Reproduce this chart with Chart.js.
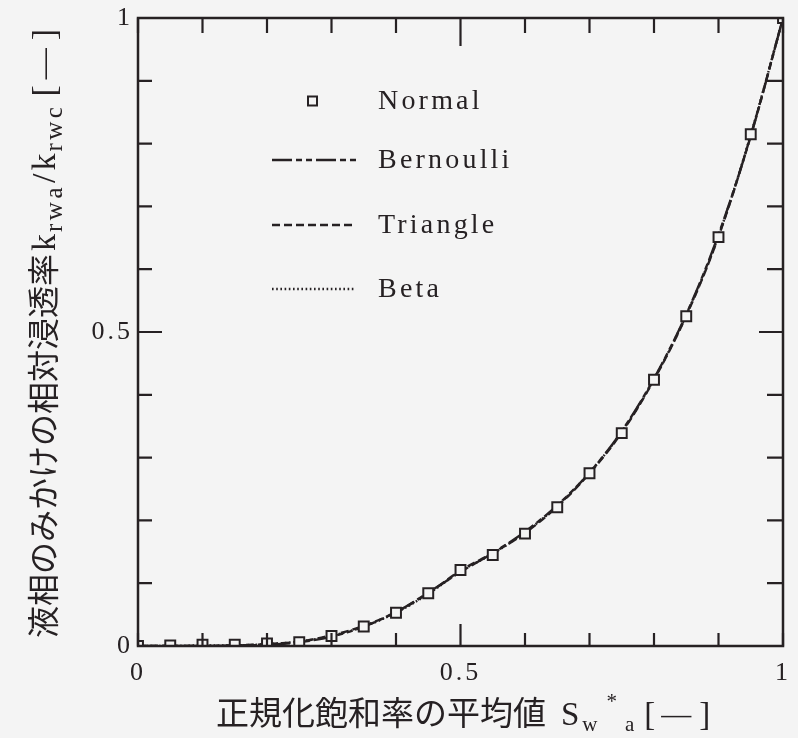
<!DOCTYPE html>
<html>
<head>
<meta charset="utf-8">
<script src="https://cdn.jsdelivr.net/npm/chart.js@4.4.1/dist/chart.umd.min.js"></script>
<style>
  html, body { margin: 0; padding: 0; background: #f4f4f4; }
  #wrap { width: 798px; height: 738px; }
</style>
</head>
<body>
<div id="wrap"><canvas id="c" width="798" height="738"></canvas></div>
<script>
// Mean normalized saturation S_w*_a
const satMean = [0, 0.05, 0.1, 0.15, 0.2, 0.25, 0.3, 0.35, 0.4, 0.45, 0.5,
                 0.55, 0.6, 0.65, 0.7, 0.75, 0.8, 0.85, 0.9, 0.95, 1];
// Apparent relative permeability k_rwa/k_rwc for each distribution
const normal    = [0, 0.001, 0.002, 0.002, 0.004, 0.006, 0.016, 0.031, 0.053, 0.084, 0.121,
                   0.145, 0.179, 0.221, 0.275, 0.339, 0.424, 0.525, 0.651, 0.815, 1];
const bernoulli = [0, 0, 0, 0.001, 0.002, 0.006, 0.015, 0.031, 0.054, 0.085, 0.118,
                   0.148, 0.182, 0.224, 0.276, 0.342, 0.426, 0.528, 0.655, 0.812, 1];
const triangle  = [0, 0, 0, 0.001, 0.003, 0.007, 0.017, 0.032, 0.054, 0.084, 0.120,
                   0.148, 0.180, 0.222, 0.275, 0.340, 0.424, 0.526, 0.652, 0.813, 1];
const beta      = [0, 0, 0.001, 0.001, 0.003, 0.007, 0.016, 0.031, 0.053, 0.083, 0.119,
                   0.147, 0.181, 0.223, 0.276, 0.341, 0.425, 0.527, 0.653, 0.814, 1];
const seriesNames = ['Normal', 'Bernoulli', 'Triangle', 'Beta'];
const labelTicks = [0, 0.5, 1];
const minorTicks = [0, 0.1, 0.2, 0.3, 0.4, 0.5, 0.6, 0.7, 0.8, 0.9, 1];

const INK = '#262123';
const PAPER = '#f4f4f4';
const SERIF = '"Liberation Serif", "DejaVu Serif", serif';
const CJK = '"Noto Sans CJK JP", sans-serif';

const pts = ys => satMean.map((x, i) => ({ x, y: ys[i] }));

const dashes = {
  Bernoulli: [20, 4, 6, 4, 6, 4],
  Triangle: [8, 4],
  Beta: [1.6, 2.6]
};

// Paper background + letter spacing for the tick labels
const paperPlugin = {
  id: 'paper',
  beforeDraw(chart) {
    const ctx = chart.ctx;
    ctx.save();
    ctx.fillStyle = PAPER;
    ctx.fillRect(0, 0, chart.width, chart.height);
    ctx.restore();
    ctx.letterSpacing = '3px';
  },
  afterDraw(chart) {
    chart.ctx.letterSpacing = '0px';
  }
};

// Closed frame with inward tick marks on all four sides
const framePlugin = {
  id: 'frame',
  afterDatasetsDraw(chart) {
    const { ctx, chartArea: a, scales: { x, y } } = chart;
    ctx.save();
    ctx.strokeStyle = INK;
    ctx.lineWidth = 2.5;
    ctx.strokeRect(a.left, a.top, a.right - a.left, a.bottom - a.top);
    ctx.lineWidth = 2.2;
    ctx.beginPath();
    minorTicks.forEach(v => {
      const major = Math.abs(v - 0.5) < 1e-9;
      const px = x.getPixelForValue(v);
      const py = y.getPixelForValue(v);
      const lb = major ? 22 : 13;   // bottom
      const lt = major ? 28 : 15;   // top
      const ll = major ? 24 : 14;   // left
      const lr = major ? 24 : 16;   // right
      ctx.moveTo(px, a.bottom); ctx.lineTo(px, a.bottom - lb);
      ctx.moveTo(px, a.top); ctx.lineTo(px, a.top + lt);
      ctx.moveTo(a.left, py); ctx.lineTo(a.left + ll, py);
      ctx.moveTo(a.right, py); ctx.lineTo(a.right - lr, py);
    });
    ctx.stroke();
    ctx.restore();
  }
};

// Legend placed inside the plot area
const legendPlugin = {
  id: 'innerLegend',
  afterDraw(chart) {
    const { ctx, chartArea: a } = chart;
    const x0 = a.left + 134, x1 = a.left + 218, tx = a.left + 240;
    const rows = [a.top + 83, a.top + 142, a.top + 207, a.top + 271];
    ctx.save();
    ctx.strokeStyle = INK;
    ctx.fillStyle = INK;
    ctx.font = '28px ' + SERIF;
    ctx.letterSpacing = '3.2px';
    ctx.textBaseline = 'middle';
    ctx.textAlign = 'left';
    seriesNames.forEach((name, i) => {
      const yy = rows[i];
      if (name === 'Normal') {
        ctx.lineWidth = 2;
        ctx.fillStyle = PAPER;
        ctx.fillRect(x0 + 36, yy - 4.5, 9, 9);
        ctx.strokeRect(x0 + 36, yy - 4.5, 9, 9);
        ctx.fillStyle = INK;
      } else {
        ctx.lineWidth = 2.4;
        ctx.setLineDash(dashes[name]);
        ctx.beginPath();
        ctx.moveTo(x0, yy);
        ctx.lineTo(x1, yy);
        ctx.stroke();
        ctx.setLineDash([]);
      }
      ctx.fillText(name, tx, yy + 1);
    });
    ctx.restore();
  }
};

function drawRich(ctx, parts, x, y) {
  let cx = x;
  parts.forEach(p => {
    ctx.font = p.font;
    ctx.letterSpacing = p.ls || '0px';
    ctx.fillText(p.t, cx, y + (p.dy || 0));
    cx += ctx.measureText(p.t).width + (p.gap || 0);
  });
}

// Axis titles with sub/superscripts
const titlePlugin = {
  id: 'axisTitles',
  afterDraw(chart) {
    const ctx = chart.ctx;
    ctx.save();
    ctx.fillStyle = INK;
    ctx.textBaseline = 'alphabetic';
    ctx.textAlign = 'left';
    const big = '33px ' + SERIF, sub = '21px ' + SERIF;
    drawRich(ctx, [
      { t: '正規化飽和率の平均値', font: '33px ' + CJK, gap: 15 },
      { t: 'S', font: big, gap: 3 },
      { t: 'w', font: sub, dy: 6, gap: 9 },
      { t: '*', font: sub, dy: -17, gap: 8 },
      { t: 'a', font: sub, dy: 6, gap: 10 },
      { t: '[', font: big, gap: 6 },
      { t: '—', font: '30px ' + SERIF, dy: -1, gap: 8 },
      { t: ']', font: big }
    ], 216, 725);

    ctx.translate(55, 638);
    ctx.rotate(-Math.PI / 2);
    const vbig = '34px ' + SERIF, vsub = '25px ' + SERIF;
    drawRich(ctx, [
      { t: '液相のみかけの相対浸透率', font: '32px ' + CJK, gap: 3 },
      { t: 'k', font: vbig, gap: 2 },
      { t: 'rwa', font: vsub, dy: 7, ls: '3.5px', gap: 1 },
      { t: '/', font: vbig, gap: 3 },
      { t: 'k', font: vbig, gap: 2 },
      { t: 'rwc', font: vsub, dy: 7, ls: '3.5px', gap: 7 },
      { t: '[', font: vbig, gap: 6 },
      { t: '—', font: '31px ' + SERIF, dy: -1, gap: 8 },
      { t: ']', font: vbig }
    ], 0, 0);
    ctx.restore();
  }
};

const lineSet = (label, ys) => ({
  label,
  data: pts(ys),
  showLine: true,
  borderColor: INK,
  borderWidth: 2.4,
  borderDash: dashes[label],
  pointRadius: 0,
  fill: false,
  cubicInterpolationMode: 'monotone'
});

new Chart(document.getElementById('c'), {
  type: 'scatter',
  data: {
    datasets: [
      {
        label: 'Normal',
        data: pts(normal),
        showLine: false,
        pointStyle: 'rect',
        pointRadius: 7,
        borderWidth: 2,
        borderColor: INK,
        backgroundColor: PAPER
      },
      lineSet('Bernoulli', bernoulli),
      lineSet('Triangle', triangle),
      lineSet('Beta', beta)
    ]
  },
  options: {
    responsive: false,
    animation: false,
    events: [],
    layout: { padding: { top: 18, right: 15, left: 0, bottom: 0 } },
    plugins: { legend: { display: false }, tooltip: { enabled: false } },
    scales: {
      x: {
        type: 'linear', min: 0, max: 1,
        afterFit(s) { s.height = 92; s.paddingLeft = 0; s.paddingRight = 0; },
        afterBuildTicks(s) { s.ticks = labelTicks.map(v => ({ value: v })); },
        grid: { display: false, drawTicks: false },
        border: { display: false },
        ticks: { color: INK, padding: 12, font: { family: SERIF, size: 26 }, maxRotation: 0,
                 callback: v => String(v) }
      },
      y: {
        type: 'linear', min: 0, max: 1,
        afterFit(s) { s.width = 138; s.paddingTop = 0; s.paddingBottom = 0; },
        afterBuildTicks(s) { s.ticks = labelTicks.map(v => ({ value: v })); },
        grid: { display: false, drawTicks: false },
        border: { display: false },
        ticks: { color: INK, padding: 5, font: { family: SERIF, size: 26 },
                 callback: v => String(v) }
      }
    }
  },
  plugins: [paperPlugin, framePlugin, legendPlugin, titlePlugin]
});
</script>
</body>
</html>
